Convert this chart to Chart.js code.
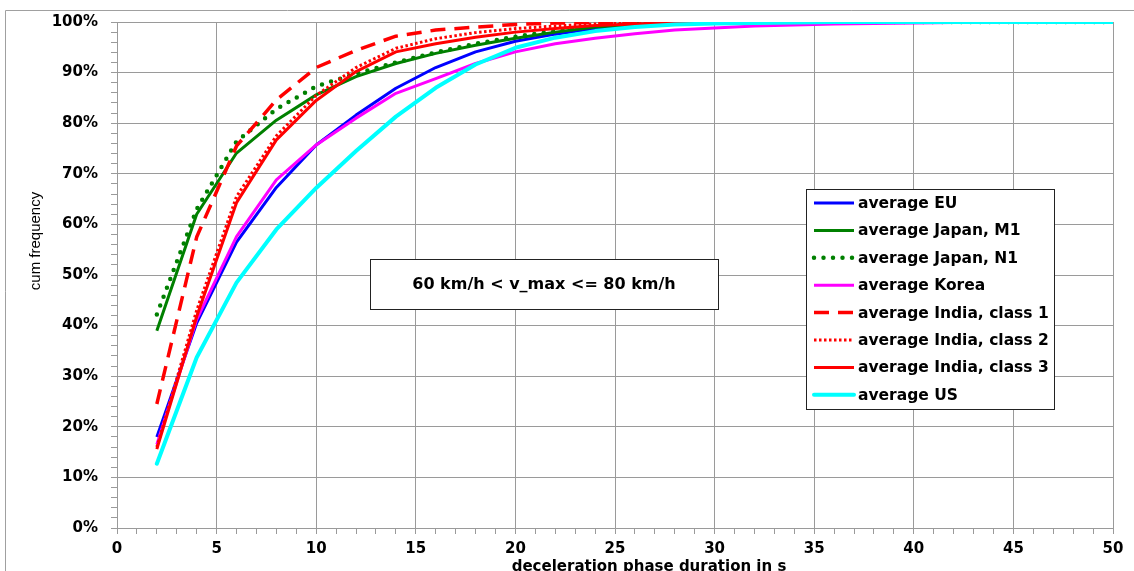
<!DOCTYPE html>
<html>
<head>
<meta charset="utf-8">
<script src="https://cdn.jsdelivr.net/npm/chart.js@4.4.1/dist/chart.umd.min.js"></script>
<style>
  html, body { margin: 0; padding: 0; background: #fff; }
  #wrap { width: 1134px; height: 571px; }
</style>
</head>
<body>
<div id="wrap"><canvas id="myChart" width="1134" height="571"></canvas></div>
<script>
// deceleration phase duration in s (x values)
const durations = [2, 4, 6, 8, 10, 12, 14, 16, 18, 20, 22, 24, 26, 28, 30, 32, 34, 36, 38, 40, 42, 44, 46, 48, 50];

// cum frequency in % for each region
const avgEU = [18, 40.5, 56.5, 67.3, 75.7, 81.6, 86.9, 91, 94.1, 96.2, 97.6, 98.7, 99.3, 99.6, 99.8, 99.9, 100, 100, 100, 100, 100, 100, 100, 100, 100];
const avgJapanM1 = [39, 62, 74.1, 80.6, 85.6, 89.2, 91.8, 93.8, 95.4, 96.8, 98, 99, 99.5, 99.8, 99.9, 100, 100, 100, 100, 100, 100, 100, 100, 100, 100];
const avgJapanN1 = [42.2, 63, 76.4, 82.8, 87.3, 89.8, 92, 94, 95.7, 97.1, 98.2, 99.1, 99.6, 99.8, 99.9, 100, 100, 100, 100, 100, 100, 100, 100, 100, 100];
const avgKorea = [16.5, 41.2, 57.6, 68.8, 75.7, 81, 85.9, 88.8, 91.8, 94.1, 95.7, 96.8, 97.7, 98.4, 98.8, 99.2, 99.4, 99.6, 99.7, 99.8, 99.9, 100, 100, 100, 100];
const avgIndia1 = [24.5, 57.5, 75.5, 84.6, 91, 94.4, 97.2, 98.4, 99, 99.5, 99.8, 99.9, 100, 100, 100, 100, 100, 100, 100, 100, 100, 100, 100, 100, 100];
const avgIndia2 = [16, 43, 65.5, 77.5, 85.5, 91, 94.8, 96.7, 97.9, 98.7, 99.2, 99.6, 99.8, 99.9, 100, 100, 100, 100, 100, 100, 100, 100, 100, 100, 100];
const avgIndia3 = [15.6, 41.8, 64.3, 76.7, 84.5, 90.2, 94.1, 95.7, 97, 98, 98.7, 99.3, 99.6, 99.8, 99.9, 100, 100, 100, 100, 100, 100, 100, 100, 100, 100];
const avgUS = [12.7, 33.7, 48.5, 59, 67.2, 74.5, 81.3, 87, 91.6, 94.9, 96.9, 98.2, 99, 99.5, 99.7, 99.8, 99.9, 100, 100, 100, 100, 100, 100, 100, 100];

const seriesNames = ['average EU', 'average Japan, M1', 'average Japan, N1', 'average Korea',
  'average India, class 1', 'average India, class 2', 'average India, class 3', 'average US'];
const seriesValues = [avgEU, avgJapanM1, avgJapanN1, avgKorea, avgIndia1, avgIndia2, avgIndia3, avgUS];

const annotationText = '60 km/h < v_max <= 80 km/h';
const xTitle = 'deceleration phase duration in s';
const yTitle = 'cum frequency';

// line styles (Excel look)
const styles = [
  { color: '#0000ff', width: 3, dash: [], cap: 'butt' },
  { color: '#008000', width: 3, dash: [], cap: 'butt' },
  { color: '#008000', width: 4.5, dash: [0, 9.5], cap: 'round' },
  { color: '#ff00ff', width: 3, dash: [], cap: 'butt' },
  { color: '#ff0000', width: 3.5, dash: [15, 9], cap: 'butt' },
  { color: '#ff0000', width: 3, dash: [2.5, 2.5], cap: 'butt' },
  { color: '#ff0000', width: 3, dash: [], cap: 'butt' },
  { color: '#00ffff', width: 4, dash: [], cap: 'round' }
];

const boldFont = 'DejaVu Sans';
const gridGray = '#9a9a9a';

const datasets = seriesNames.map((name, i) => ({
  label: name,
  data: durations.map((d, j) => ({ x: d, y: seriesValues[i][j] })),
  borderColor: styles[i].color,
  backgroundColor: styles[i].color,
  borderWidth: styles[i].width,
  borderDash: styles[i].dash,
  borderCapStyle: styles[i].cap,
  borderJoinStyle: 'round',
  pointRadius: 0,
  tension: 0,
  fill: false,
  order: seriesNames.length - i   // later series drawn on top, like Excel
}));

// frame, annotation box, legend and axis titles
const extras = {
  id: 'extras',
  beforeDraw(chart) {
    const ctx = chart.ctx;
    ctx.save();
    ctx.strokeStyle = '#a0a0a0';
    ctx.lineWidth = 1;
    ctx.beginPath();
    ctx.moveTo(5.5, 600);
    ctx.lineTo(5.5, 10.5);
    ctx.lineTo(1134, 10.5);
    ctx.stroke();
    ctx.restore();
  },
  afterDraw(chart) {
    const ctx = chart.ctx;
    ctx.save();

    // annotation box
    ctx.fillStyle = '#fff';
    ctx.fillRect(370, 259, 348, 50);
    ctx.strokeStyle = '#222';
    ctx.lineWidth = 1;
    ctx.strokeRect(370.5, 259.5, 348, 50);
    ctx.fillStyle = '#000';
    ctx.font = 'bold 16px "' + boldFont + '"';
    ctx.textAlign = 'center';
    ctx.textBaseline = 'middle';
    ctx.fillText(annotationText, 544, 285);

    // legend
    const lx = 806, ly = 189, lw = 248, lh = 220;
    ctx.fillStyle = '#fff';
    ctx.fillRect(lx, ly, lw, lh);
    ctx.strokeStyle = '#222';
    ctx.strokeRect(lx + 0.5, ly + 0.5, lw, lh);
    ctx.textAlign = 'left';
    ctx.font = 'bold 15.5px "' + boldFont + '"';
    chart.data.datasets.forEach((ds, i) => {
      const y = 203 + i * 27.4;
      ctx.save();
      ctx.strokeStyle = ds.borderColor;
      ctx.lineWidth = ds.borderWidth;
      ctx.setLineDash(ds.borderDash);
      ctx.lineCap = ds.borderCapStyle;
      ctx.beginPath();
      ctx.moveTo(814, y);
      ctx.lineTo(854, y);
      ctx.stroke();
      ctx.restore();
      ctx.fillStyle = '#000';
      ctx.fillText(ds.label, 858, y + 1);
    });

    // axis titles
    ctx.fillStyle = '#000';
    ctx.font = 'bold 15px "' + boldFont + '"';
    ctx.textAlign = 'center';
    ctx.textBaseline = 'alphabetic';
    ctx.fillText(xTitle, 649, 571);

    ctx.translate(36, 241);
    ctx.rotate(-Math.PI / 2);
    ctx.font = '15px "Liberation Sans Narrow", "Liberation Sans"';
    ctx.textBaseline = 'middle';
    ctx.fillText(yTitle, 0, 0);
    ctx.restore();
  }
};

const ctx = document.getElementById('myChart').getContext('2d');
const c = new Chart(ctx, {
  type: 'line',
  data: { datasets: datasets },
  options: {
    responsive: false,
    animation: false,
    devicePixelRatio: 1,
    layout: { padding: { top: 21, right: 21, bottom: 0, left: 0 } },
    plugins: { legend: { display: false }, tooltip: { enabled: false } },
    scales: {
      x: {
        type: 'linear',
        min: 0,
        max: 50,
        afterFit: (s) => { s.height = 43; },
        border: { color: gridGray, width: 1 },
        grid: {
          color: (c) => (c.tick && c.tick.value % 5 === 0 ? gridGray : 'rgba(0,0,0,0)'),
          tickColor: gridGray,
          tickLength: 6
        },
        ticks: {
          stepSize: 1,
          autoSkip: false,
          maxRotation: 0,
          padding: 6,
          color: '#000',
          font: { family: boldFont, size: 15, weight: 'bold' },
          callback: (v) => (v % 5 === 0 ? String(v) : '')
        }
      },
      y: {
        min: 0,
        max: 100,
        afterFit: (s) => { s.width = 117; },
        border: { color: gridGray, width: 1 },
        grid: {
          color: (c) => (c.tick && c.tick.value % 10 === 0 ? gridGray : 'rgba(0,0,0,0)'),
          tickColor: gridGray,
          tickLength: 6
        },
        ticks: {
          stepSize: 2,
          autoSkip: false,
          padding: 13,
          color: '#000',
          font: { family: boldFont, size: 15, weight: 'bold' },
          callback: (v) => (v % 10 === 0 ? v + '%' : '')
        }
      }
    }
  },
  plugins: [extras]
});
</script>
</body>
</html>
